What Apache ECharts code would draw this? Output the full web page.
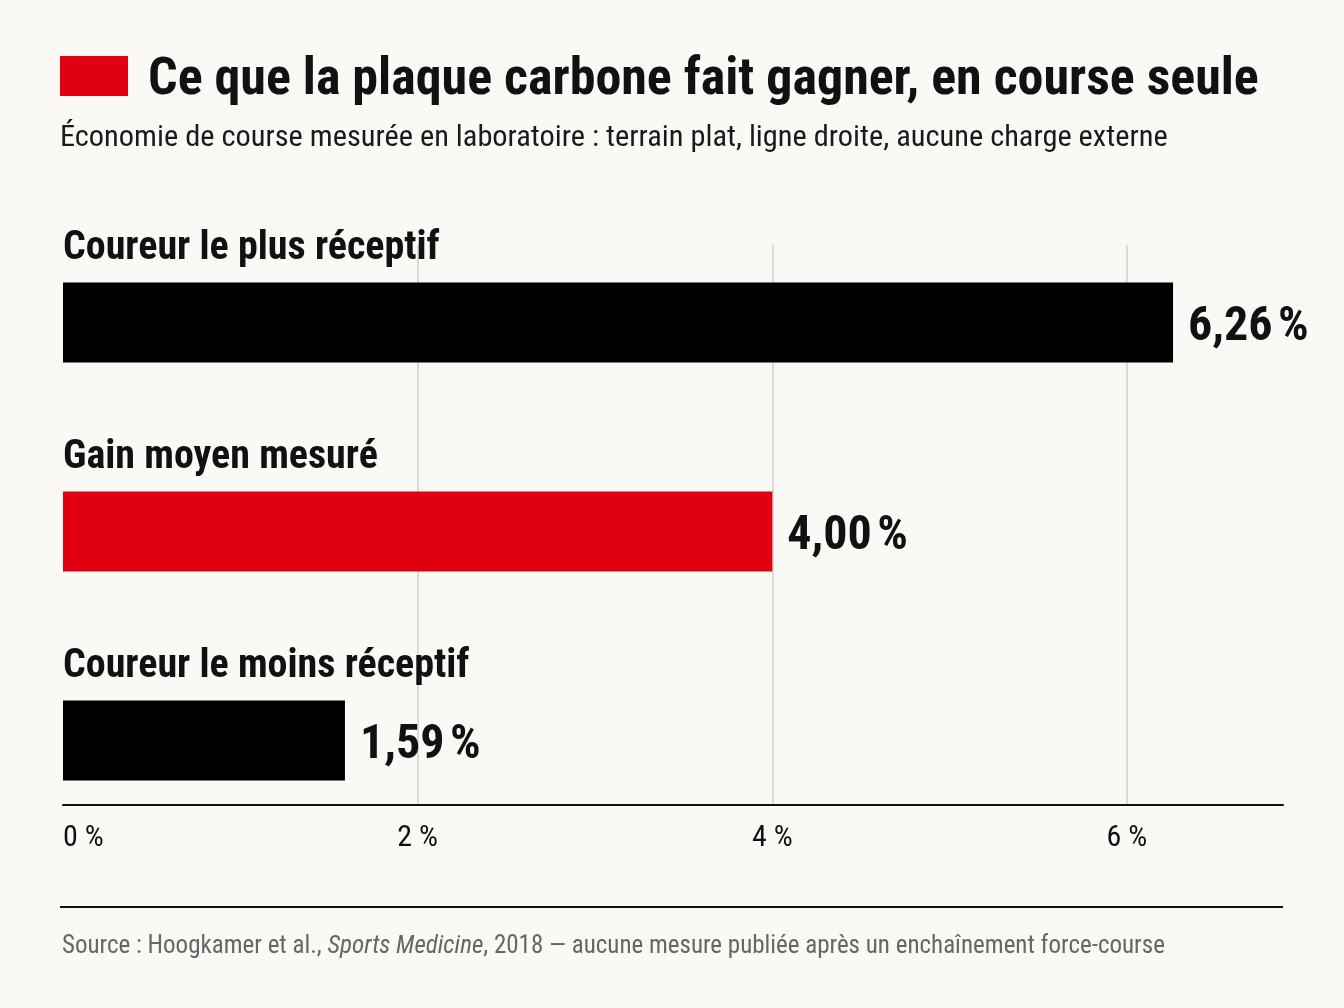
<!DOCTYPE html>
<html>
<head>
<meta charset="utf-8">
<script src="https://cdn.jsdelivr.net/npm/echarts@6/dist/echarts.min.js"></script>
<style>
  html, body { margin: 0; padding: 0; background: #faf9f5; }
  #chart { width: 1344px; height: 1008px; }
</style>
</head>
<body>
<div id="chart"></div>
<script>
const categories = ["Coureur le plus réceptif", "Gain moyen mesuré", "Coureur le moins réceptif"];
const gains = [6.26, 4.00, 1.59];
const barColors = ["#000000", "#e0000f", "#000000"];
const tickValues = [0, 2, 4, 6];

const FONT = "'Roboto Condensed', 'Liberation Sans Narrow', 'DejaVu Sans Condensed', 'Liberation Sans', sans-serif";
const AXIS_MAX = 6.88;

const fmtPct = (v) => v.toFixed(2).replace(".", ",") + "\u202f%";

const chart = echarts.init(document.getElementById("chart"), null, { renderer: "canvas" });

chart.setOption({
  backgroundColor: "#faf9f5",
  animation: false,
  textStyle: { fontFamily: FONT },
  grid: [
    // axis + gridlines
    { left: 63, top: 245, width: 1220, height: 560 },
    // bars, one band of 209px per category
    { left: 63, top: 218, width: 1220, height: 627 },
  ],
  xAxis: [
    {
      gridIndex: 0, type: "value", min: 0, max: AXIS_MAX, interval: 2,
      axisLine: { show: true, lineStyle: { color: "#111", width: 2 } },
      axisTick: { show: false },
      splitLine: {
        show: true,
        lineStyle: { color: ["rgba(0,0,0,0)", "#cfcfcf", "#cfcfcf", "#cfcfcf", "rgba(0,0,0,0)"], width: 1.5 },
      },
      axisLabel: {
        margin: 18, fontSize: 30, color: "#111", fontFamily: FONT,
        alignMinLabel: "left",
        formatter: (v) => (tickValues.includes(v) ? v + " %" : ""),
      },
    },
    { gridIndex: 1, type: "value", min: 0, max: AXIS_MAX, show: false, splitLine: { show: false } },
  ],
  yAxis: [
    { gridIndex: 0, type: "category", data: categories, show: false },
    { gridIndex: 1, type: "category", data: categories, inverse: true, show: false },
  ],
  series: [
    {
      // values, with the value label to the right
      type: "bar", xAxisIndex: 1, yAxisIndex: 1, barWidth: 80,
      data: gains.map((v, i) => ({ value: v, itemStyle: { color: barColors[i] } })),
      label: {
        show: true, position: "right", distance: 15, offset: [0, 5],
        fontSize: 48, fontWeight: "bold", color: "#111", fontFamily: FONT,
        formatter: (p) => fmtPct(p.value),
      },
    },
    {
      // same bars, transparent, carrying the category name above each bar
      type: "bar", xAxisIndex: 1, yAxisIndex: 1, barWidth: 80, barGap: "-100%",
      silent: true,
      data: gains,
      itemStyle: { color: "rgba(0,0,0,0)" },
      label: {
        show: true, position: [0, -34], align: "left", verticalAlign: "middle",
        fontSize: 40, fontWeight: "bold", color: "#111", fontFamily: FONT,
        formatter: "{b}",
      },
    },
  ],
  graphic: [
    { type: "rect", left: 60, top: 56, shape: { width: 68, height: 40 }, style: { fill: "#e0000f" } },
    {
      type: "text", left: 148, top: 55,
      style: { text: "Ce que la plaque carbone fait gagner, en course seule", fontSize: 52, fontWeight: "bold", fill: "#111", fontFamily: FONT },
    },
    {
      type: "text", left: 60, top: 123,
      style: { text: "Économie de course mesurée en laboratoire : terrain plat, ligne droite, aucune charge externe", fontSize: 30.4, fill: "#1a1a1a", fontFamily: FONT },
    },
    { type: "line", shape: { x1: 60, y1: 907, x2: 1283, y2: 907 }, style: { stroke: "#111", lineWidth: 2 } },
    {
      type: "text", left: 62, top: 934,
      style: {
        text: "Source : Hoogkamer et al., {i|Sports Medicine}, 2018 — aucune mesure publiée après un enchaînement force-course",
        fontSize: 25, fill: "#666", fontFamily: FONT,
        rich: { i: { fontStyle: "italic", fontSize: 25, fill: "#666", fontFamily: FONT } },
      },
    },
  ],
});
</script>
</body>
</html>
